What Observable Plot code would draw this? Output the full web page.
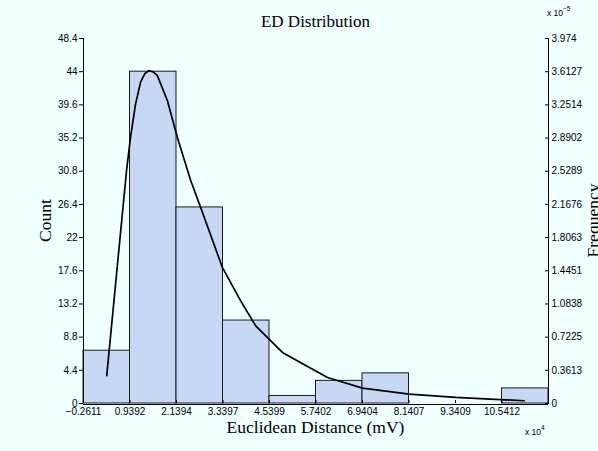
<!DOCTYPE html>
<html>
<head>
<meta charset="utf-8">
<script src="https://cdn.jsdelivr.net/npm/d3@7"></script>
<script src="https://cdn.jsdelivr.net/npm/@observablehq/plot@0.6"></script>
<style>
  html, body { margin: 0; padding: 0; background: #f0ffff; }
  .serif { font-family: "Liberation Serif", "Times New Roman", serif; }
</style>
</head>
<body>
<div id="chart"></div>
<script>
// ---- data (x in units of 10^4 mV) ----
const binEdges = [-0.2611, 0.9392, 2.1394, 3.3397, 4.5399, 5.7402, 6.9404, 8.1407, 9.3409, 10.5412, 11.7414];
const counts = [7, 44, 26, 11, 1, 3, 4, 0, 0, 2];
const xTickLabels = ["\u22120.2611", "0.9392", "2.1394", "3.3397", "4.5399", "5.7402", "6.9404", "8.1407", "9.3409", "10.5412"];
const countTicks = [0, 4.4, 8.8, 13.2, 17.6, 22, 26.4, 30.8, 35.2, 39.6, 44, 48.4];
const freqTickLabels = ["0", "0.3613", "0.7225", "1.0838", "1.4451", "1.8063", "2.1676", "2.5289", "2.8902", "3.2514", "3.6127", "3.974"];
const freqMax = 3.974;   // x 10^-5, top of right axis
const countMax = 48.4;   // top of left axis
// fitted density curve (frequency, x 10^-5)
const curveX    = [0.339, 0.850, 0.953, 1.082, 1.212, 1.320, 1.426, 1.535, 1.643, 1.902, 2.160, 2.504, 2.762, 3.323, 3.796, 4.183, 4.873, 6.036, 6.940, 8.145, 9.350, 11.116];
const curveFreq = [0.304, 2.537, 2.898, 3.260, 3.498, 3.590, 3.625, 3.610, 3.572, 3.301, 2.898, 2.430, 2.135, 1.482, 1.117, 0.846, 0.556, 0.283, 0.168, 0.103, 0.066, 0.030];

const bars = counts.map((c, i) => ({x1: binEdges[i], x2: binEdges[i + 1], count: c}));
const curve = curveX.map((x, i) => ({x, f: curveFreq[i]}));
const k = countMax / freqMax;

const W = 598, H = 451, mL = 83, mR = 50, mT = 38, mB = 48;

const chart = Plot.plot({
  width: W, height: H,
  marginLeft: mL, marginRight: mR, marginTop: mT, marginBottom: mB,
  x: {domain: [binEdges[0], binEdges[binEdges.length - 1]]},
  y: {domain: [0, countMax]},
  style: {background: "#f0ffff", fontFamily: "'Liberation Sans', Arial, sans-serif", fontSize: "10px", color: "#000"},
  marks: [
    Plot.rectY(bars, {x1: "x1", x2: "x2", y: "count", fill: "#c6d8f4", stroke: "#1a1a1a", strokeWidth: 1}),
    Plot.line(curve, {x: "x", y: d => d.f * k, stroke: "#000", strokeWidth: 1.7}),
    Plot.axisY({ticks: countTicks, tickFormat: d => String(d), anchor: "left", tickSize: 4, tickPadding: 2, label: null}),
    Plot.axisY({ticks: countTicks, tickFormat: (d, i) => freqTickLabels[i], anchor: "right", tickSize: -4, tickPadding: 7, label: null}),
    Plot.axisX({ticks: binEdges.slice(0, 10), tickFormat: (d, i) => xTickLabels[i], tickSize: -3, tickPadding: 7.5, label: null}),
    Plot.ruleY([0], {stroke: "#000", strokeWidth: 1, dy: 1}),
    Plot.ruleX([binEdges[0]], {stroke: "#000", strokeWidth: 1}),
    Plot.ruleX([binEdges[binEdges.length - 1]], {stroke: "#000", strokeWidth: 1})
  ]
});

const svg = d3.select(chart);
const cx = (mL + (W - mR)) / 2;
svg.append("text").attr("class", "serif").attr("x", cx).attr("y", 27)
  .attr("text-anchor", "middle").attr("font-size", 17).text("ED Distribution");
svg.append("text").attr("class", "serif").attr("x", cx).attr("y", 433)
  .attr("text-anchor", "middle").attr("font-size", 17.5).text("Euclidean Distance (mV)");
svg.append("text").attr("class", "serif").attr("transform", `translate(51,${(mT + H - mB) / 2}) rotate(-90)`)
  .attr("text-anchor", "middle").attr("font-size", 17.5).text("Count");
svg.append("text").attr("class", "serif").attr("transform", `translate(598.5,${(mT + H - mB) / 2}) rotate(-90)`)
  .attr("text-anchor", "middle").attr("font-size", 17.5).text("Frequency");
const e5 = svg.append("text").attr("x", 547).attr("y", 16).attr("font-size", 8.5).attr("text-anchor", "start");
e5.append("tspan").text("x 10");
e5.append("tspan").attr("dy", -5).attr("font-size", 6.5).text("\u22125");
const e4 = svg.append("text").attr("x", 525).attr("y", 435).attr("font-size", 8.5).attr("text-anchor", "start");
e4.append("tspan").text("x 10");
e4.append("tspan").attr("dy", -5).attr("font-size", 6.5).text("4");

document.getElementById("chart").appendChild(chart);
</script>
</body>
</html>
